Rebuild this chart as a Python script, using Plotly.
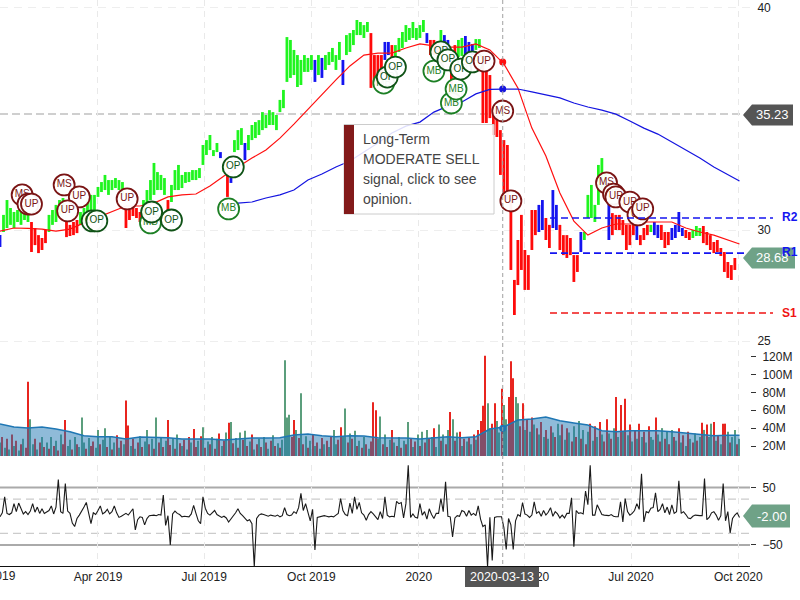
import pandas as pd
import plotly.graph_objects as go

START = "2019-01-07"

highs = [
29.77,30.68,31.35,30.99,30.81,30.90,31.04,31.13,31.13,30.36,
30.09,29.77,29.64,30.00,30.68,30.90,31.13,31.35,31.44,30.36,
30.23,30.36,30.45,30.81,30.99,31.35,31.58,31.58,31.94,32.16,
32.48,32.25,32.25,32.34,32.25,32.16,30.99,30.90,31.08,30.99,
30.81,31.35,31.80,32.25,33.02,32.61,32.48,32.34,31.35,32.03,
32.70,32.93,32.48,32.61,32.61,32.70,32.70,32.79,33.83,34.05,
34.28,33.60,33.92,33.51,32.93,32.48,32.34,34.05,34.50,34.59,
33.92,34.28,34.73,34.86,34.95,35.31,35.18,35.40,35.31,35.18,
35.86,36.31,38.69,38.56,38.11,37.88,37.66,37.88,37.75,37.88,
37.66,37.88,37.75,37.88,38.02,38.20,37.88,38.47,37.66,38.78,
38.87,39.01,39.46,39.37,39.23,39.37,38.87,37.88,37.88,37.88,
38.47,38.47,38.33,38.33,38.65,38.92,39.23,39.10,39.37,39.10,
39.23,39.46,38.87,38.56,38.56,38.47,39.01,38.78,38.56,38.11,
38.33,38.56,38.65,38.74,38.47,38.38,38.60,38.60,37.52,37.21,
36.98,35.40,35.18,34.50,34.05,33.83,31.35,27.75,29.55,30.68,
29.10,28.87,30.90,30.90,31.13,31.35,30.54,30.23,31.80,31.13,
30.23,29.77,29.77,29.64,28.87,28.87,29.91,29.91,31.58,32.03,
31.13,32.93,33.24,32.61,31.35,30.76,30.68,30.68,30.45,30.23,
30.23,30.36,30.23,29.77,30.09,30.23,30.23,30.36,30.23,30.23,
29.91,29.91,30.09,30.23,30.81,30.09,30.00,29.91,30.00,30.18,
30.09,30.18,29.91,29.77,29.46,29.55,29.19,29.01,28.56,28.42,
28.74]
lows = [
29.23,29.91,30.09,30.23,30.09,30.36,30.23,30.45,30.36,29.01,
29.32,28.96,29.10,29.41,29.91,30.23,30.36,30.68,30.81,29.68,
29.73,29.77,29.86,30.23,30.27,30.54,30.76,30.68,31.49,31.71,
31.80,31.58,31.80,31.89,31.80,31.58,30.09,30.45,30.63,30.54,
30.36,30.68,31.13,31.35,31.58,31.80,31.80,31.58,30.81,31.26,
31.80,31.80,31.89,32.12,32.16,32.25,32.25,32.34,32.93,33.38,
33.60,33.33,33.51,33.24,32.61,31.49,32.12,33.51,33.60,33.83,
33.15,33.60,34.05,34.14,34.28,34.50,34.59,34.73,34.73,34.50,
35.31,35.49,36.67,36.85,36.98,36.44,36.53,37.12,37.12,37.21,
36.67,36.98,36.85,37.21,37.43,37.57,37.21,37.66,36.53,37.88,
38.02,38.33,38.78,38.78,38.65,38.92,36.40,36.53,36.76,36.40,
37.66,37.88,37.75,37.75,38.02,38.20,38.47,38.56,38.65,38.56,
38.65,38.92,38.42,37.88,37.88,37.66,38.20,38.11,37.66,36.53,
37.66,37.79,37.84,37.79,37.88,37.88,38.11,38.20,34.82,34.82,
35.04,34.28,34.19,32.48,31.58,31.35,28.20,26.17,27.52,28.20,
27.30,27.30,29.10,29.77,29.91,30.00,29.55,29.19,30.09,30.00,
29.10,28.87,28.74,28.87,27.66,28.11,29.01,29.55,30.54,30.54,
30.36,31.13,31.80,31.35,29.55,29.77,30.00,30.00,29.77,29.10,
29.32,29.77,29.55,29.32,29.55,29.77,29.91,29.77,29.64,29.55,
29.19,29.32,29.55,29.64,29.91,29.73,29.64,29.55,29.64,29.73,
29.73,29.41,29.32,29.10,28.96,29.01,28.83,28.11,27.84,27.75,
28.20]
bar_kinds = ("bggggggggr" "rrrrgggggr" "rrrggggggg" "ggggggrrrr" "rgggggggrg"
             "gggggggggg" "gggbgrbggg" "bggggggggg" "gggggggggg" "bgbgggggbg"
             "ggggggrrrr" "bbrggggggg" "ggbrrrgbbr" "rggbbbggrr" "rrrrrrrrrr"
             "rrrrbbrrbb" "rrrrrrbggg" "ggggbrrrrr" "rrbrrrgbbr" "rrbbbbrrgg"
             "grrrrrrrrr" "r")

long_ma = [29.95,30.09,30.07,30.04,29.95,30.04,30.32,30.58,30.85,31.08,31.08,31.21,31.49,31.58,
           31.62,31.98,32.43,32.84,33.24,33.60,34.14,34.77,35.45,36.08,36.76,37.39,37.88,37.97,
           37.97,38.20,38.38,38.29,38.24,38.24,38.38,38.11,37.48,36.40,34.59,33.33,31.67,30.40,
           29.77,30.09,30.27,30.27,30.36,30.36,30.36,30.09,29.91,29.77,29.55,29.37]
slow_ma = [31.21,31.26,31.44,31.58,31.80,32.25,32.52,32.84,33.11,33.51,33.92,34.37,34.68,34.86,
           35.31,35.58,35.77,36.13,36.33,36.35,36.35,36.22,36.08,35.95,35.72,35.54,35.40,35.22,
           34.91,34.59,34.32,33.96,33.60,33.24,32.84,32.48,32.21]
vol_ma = [44.6,41.3,40.2,41.3,39,36,31.5,30.4,30.4,27.8,30,30,29.3,27.8,27.8,27.8,26.7,28.2,29,29,
          29.3,32.3,33.4,31.5,30.4,31.5,31.2,29.3,29,29,27.8,29,30.4,29.3,30.4,39,41.3,49.1,50.2,
          52.5,48.3,45.8,43.5,37.1,36,37.1,37.1,37.1,36,34.6,33.4,31.5,32,32]

volume = [
24,30,18,28,16,33,20,26,15,22,28,18,92,50,22,28,16,24,30,19,
24,17,30,20,26,15,33,22,49,20,27,16,30,22,19,52,24,17,29,20,
25,18,38,22,27,40,19,30,16,24,32,18,26,22,71,43,20,28,17,24,
31,19,25,38,22,28,17,52,24,30,19,26,49,21,29,17,33,23,20,27,
16,30,24,39,19,26,31,41,18,25,22,30,17,28,34,20,26,35,46,47,
23,29,18,35,27,37,20,25,33,16,22,28,19,30,24,17,26,32,20,23,
18,27,116,52,55,30,49,38,29,79,22,31,18,26,33,20,24,17,29,22,
26,19,31,38,22,27,41,30,62,24,34,28,37,20,26,18,30,22,17,25,
69,60,28,53,22,33,19,27,38,24,20,30,18,26,22,47,28,19,25,33,
20,36,24,38,28,30,40,19,44,26,33,22,38,58,50,26,35,36,20,28,
25,30,22,33,27,38,48,65,121,68,40,45,68,48,35,84,66,50,75,115,
96,75,68,42,68,38,50,36,52,44,40,33,47,30,38,28,42,35,30,45,
32,44,27,40,35,25,42,30,48,28,38,22,36,45,26,42,30,47,33,25,
50,34,28,40,75,30,66,36,73,32,44,25,38,28,45,30,36,24,42,30,
27,52,33,25,40,28,36,22,38,30,26,40,24,32,20,36,28,24,34,26,
30,46,38,44,30,45,47,26,32,22,45,45,36,24,30,38,22,28]
vol_kinds = ("grgrgrgrgrgrrggrgrgr" "grgrgrgrrggrgrgggrgr" "rggrggrgrgrgrgrrgrgr"
             "grggrgrgrgrgrrgrgrgr" "grgrrgrgrgrgrgrgrgrg" "rgrgrgrgrgrgrgrgrgrg"
             "rggggrrgrgrgrgrgrgrg" "rgrggrrggrgrgrgrgrgr" "rrggrgrgrgrgrgrgrgrg"
             "rgrgrgrggrgrgrgrgrgr" "grgrgrrrrggrrggrggrr" "rggrrgrgrgrgrgrgrgrg"
             "grgrgrgrgrgrgrgrgrgr" "rgrgrgrgrgrgrgrgrgrg" "grgrgrgrgrgrgrgrgrgr"
             "grgrggrgrgrrgrggrg")

cci = [
-1,6,34,5,3,6,22,8,23,12,4,8,3,9,22,7,16,5,13,5,
7,10,18,4,16,64,8,5,57,9,5,-12,-18,-4,2,8,16,24,5,-13,
6,3,10,18,4,7,12,4,8,18,6,-2,0,3,5,2,8,13,-24,-6,
-1,-2,-15,-4,1,2,2,1,3,2,37,-16,1,-50,4,9,5,3,-1,0,
0,-1,4,19,5,-8,-13,34,14,5,2,6,10,3,1,-2,0,-3,-10,-5,
2,6,13,5,1,-3,-8,-6,-13,-88,-4,2,4,3,1,0,2,1,0,2,
-1,1,15,3,1,2,8,5,15,40,10,22,5,-8,12,-59,-2,-1,0,1,
0,-1,0,-1,2,5,31,10,3,1,23,5,34,12,24,6,2,-7,3,8,
4,-2,-6,8,-4,34,2,-1,0,-1,26,22,24,-3,22,89,-2,4,-2,-3,
22,2,8,-5,13,3,-4,5,5,31,8,60,0,-1,-36,-3,1,0,10,8,
0,10,2,5,1,18,-5,-18,-15,-88,-2,-77,-2,-1,-1,-1,-20,-58,-4,-15,
-58,-8,3,0,24,4,2,-2,2,25,5,8,0,10,2,7,15,0,8,4,
-3,2,-3,5,5,32,-53,10,5,6,4,44,20,89,2,2,20,10,3,2,
2,1,3,0,-1,-1,25,-10,31,8,2,5,10,22,12,74,-10,8,6,14,
15,41,8,12,22,6,16,3,20,5,8,62,5,8,3,-3,-4,0,2,1,
1,1,66,-6,-2,6,8,2,-7,1,57,-8,8,-29,-4,2,6,-2]

signal_labels = ["MS","UP","UP","MS","UP","UP","OP","OP","UP","MB","OP","OP","MB","OP","MB","OP","OP",
                 "MB","MB","MB","OP","OP","OP","OP","UP","MS","UP","MS","UP","UP","UP","UP","UP"]
signal_dates = ["2019-01-26","2019-01-31","2019-02-03","2019-03-03","2019-03-16","2019-03-06","2019-03-27",
                "2019-03-31","2019-04-26","2019-05-16","2019-05-17","2019-06-03","2019-07-22","2019-07-26",
                "2019-12-02","2019-12-05","2019-12-12","2020-01-14","2020-01-29","2020-02-02","2020-01-20",
                "2020-01-26","2020-02-06","2020-02-16","2020-02-26","2020-03-13","2020-03-20","2020-06-10",
                "2020-06-16","2020-06-18","2020-06-30","2020-07-07","2020-07-11"]
signal_prices = [31.58,31.17,31.17,32.03,31.49,30.86,30.41,30.41,31.40,30.32,30.81,30.45,30.95,32.84,
                 36.62,36.89,37.34,37.16,35.72,36.35,38.02,37.66,37.25,37.57,37.61,35.36,31.31,32.12,
                 31.62,31.49,31.26,30.68,30.95]

r2, r1, s1 = 30.54, 28.96, 26.26
last_price, last_close, last_cci = 35.23, 28.68, -2.00
cursor_date = "2020-03-13"
cursor_values = [37.57, 36.35, 40]

price_ticks = [25, 30, 40]
vol_ticks = [20, 40, 60, 80, 100, 120]
vol_labels = ["20M", "40M", "60M", "80M", "100M", "120M"]
cci_ticks = [-50, 50]
x_ticks = ["2019-04-01", "2019-07-01", "2019-10-01", "2020-01-01", "2020-04-01", "2020-07-01", "2020-10-01"]
x_labels = ["Apr 2019", "Jul 2019", "Oct 2019", "2020", "Apr 2020", "Jul 2020", "Oct 2020"]

BAR = {"g": "#1ff51f", "r": "#ff0a0a", "b": "#1414f0"}
VOL = {"g": "#5b9e7c", "r": "#e8251f"}
SIG = {"UP": "#7a1414", "MS": "#7a1414", "OP": "#0f5216", "MB": "#1c7f24"}
DAY = 86400000
X_RANGE = ["2019-01-07", "2020-10-11"]

def px(x): return x / 800
def py(y): return 1 - y / 600

bar_dates = pd.date_range(START, periods=len(highs), freq="3D")
two_day = pd.date_range(START, periods=len(volume), freq="2D")
cci_dates = pd.date_range(START, periods=len(cci), freq="2D")
ma_dates = list(pd.date_range(START, periods=len(long_ma) - 1, freq="12D")) + [pd.Timestamp("2020-10-02")]

fig = go.Figure()
fig.add_trace(go.Bar(x=bar_dates, base=lows, y=[h - l for h, l in zip(highs, lows)],
                     marker=dict(color=[BAR[k] for k in bar_kinds], line_width=0),
                     width=2.4 * DAY, xaxis="x", yaxis="y", hoverinfo="skip"))
fig.add_trace(go.Scatter(x=ma_dates, y=long_ma, mode="lines", line=dict(color="#ff1010", width=1.2),
                         xaxis="x", yaxis="y", hoverinfo="skip"))
fig.add_trace(go.Scatter(x=ma_dates[17:], y=slow_ma, mode="lines", line=dict(color="#1414e0", width=1.2),
                         xaxis="x", yaxis="y", hoverinfo="skip"))
fig.add_trace(go.Scatter(x=[cursor_date], y=[cursor_values[0]], mode="markers",
                         marker=dict(color="#ff1010", size=7), xaxis="x", yaxis="y", hoverinfo="skip"))
fig.add_trace(go.Scatter(x=[cursor_date], y=[cursor_values[1]], mode="markers",
                         marker=dict(color="#1414e0", size=7), xaxis="x", yaxis="y", hoverinfo="skip"))
for lab, d, p in zip(signal_labels, signal_dates, signal_prices):
    fig.add_trace(go.Scatter(x=[d], y=[p], mode="markers+text", text=[lab], textposition="middle center",
                             textfont=dict(size=10, color=SIG[lab], family="Liberation Sans"),
                             marker=dict(size=21, color="rgba(255,255,255,0.95)", line=dict(color=SIG[lab], width=1.8)),
                             xaxis="x", yaxis="y", hoverinfo="skip"))

fig.add_trace(go.Bar(x=two_day, y=volume, marker=dict(color=[VOL[k] for k in vol_kinds], line_width=0),
                     width=0.9 * DAY, xaxis="x2", yaxis="y2", hoverinfo="skip"))
fig.add_trace(go.Scatter(x=ma_dates, y=vol_ma, mode="lines", fill="tozeroy", fillcolor="rgba(31,119,180,0.5)",
                         line=dict(color="#1f77b4", width=1.6), xaxis="x2", yaxis="y2", hoverinfo="skip"))
fig.add_trace(go.Scatter(x=[cursor_date], y=[cursor_values[2]], mode="markers",
                         marker=dict(color="#1f77b4", size=7), xaxis="x2", yaxis="y2", hoverinfo="skip"))
fig.add_trace(go.Scatter(x=cci_dates, y=cci, mode="lines", line=dict(color="#1a1a1a", width=1.1),
                         xaxis="x3", yaxis="y3", hoverinfo="skip"))

D = 750 / 800
xbase = dict(type="date", range=X_RANGE, domain=[0, D], tickmode="array", tickvals=x_ticks, automargin=False,
             showgrid=True, gridcolor="#e9e9e9", griddash="6px,5px", gridwidth=1, zeroline=False, ticks="")
ybase = dict(side="right", zeroline=False, ticklabelposition="outside", automargin=False,
             tickfont=dict(family="Liberation Sans", size=12, color="#222"))

shapes = []
def line(x0, x1, y0, y1, color, width, dash="solid", xref="paper", yref="paper", layer="above"):
    shapes.append(dict(type="line", x0=x0, x1=x1, y0=y0, y1=y1, xref=xref, yref=yref, layer=layer,
                       line=dict(color=color, width=width, dash=dash)))

line(0, D, last_price, last_price, "#cfcfcf", 2, "8px,4px", yref="y", layer="below")
for lvl in (50, -50):
    line(0, D, lvl, lvl, "#aaaaaa", 2, yref="y3", layer="below")
for lvl in (30, -30):
    line(0, D, lvl, lvl, "#cccccc", 1.2, "8px,5px", yref="y3", layer="below")
line(px(550), px(773), r2, r2, "#1414f0", 1.6, "7px,4px", yref="y")
line(px(550), px(773), r1, r1, "#1414f0", 1.6, "7px,4px", yref="y")
line(px(550), px(773), s1, s1, "#f01414", 1.6, "7px,4px", yref="y")
line(cursor_date, cursor_date, py(0), py(566), "#a0a0a0", 1, "4px,3px", xref="x")

def rect(x0, x1, y0, y1, fill, border=None):
    shapes.append(dict(type="rect", x0=px(x0), x1=px(x1), y0=py(y0), y1=py(y1), xref="paper", yref="paper",
                       fillcolor=fill, line=dict(color=border or fill, width=1 if border else 0)))

def tag(yc, half, x_right, fill):
    pts = [(743, yc), (752, yc - half), (x_right, yc - half), (x_right, yc + half), (752, yc + half)]
    path = "M " + " L ".join(f"{px(a):.5f},{py(b):.5f}" for a, b in pts) + " Z"
    shapes.append(dict(type="path", path=path, xref="paper", yref="paper", fillcolor=fill, line_width=0))

rect(344, 494, 124.5, 214, "rgba(255,255,255,0.86)", "#cccccc")
rect(344, 354, 125, 214, "#821a1a")
tag(115, 10.5, 793, "#555555")
tag(258, 10.5, 795, "#6fa287")
tag(516, 11.5, 790, "#6fa287")
rect(465, 539, 567, 587, "#555555")

annots = []
def text(x, y, s, size=12, color="#444", anchor="left", bold=False):
    annots.append(dict(x=px(x), y=py(y), xref="paper", yref="paper", text=f"<b>{s}</b>" if bold else s,
                       showarrow=False, xanchor=anchor, yanchor="middle", align=anchor,
                       font=dict(family="Liberation Sans", size=size, color=color), borderpad=0))

for i, s in enumerate(["Long-Term", "MODERATE SELL", "signal, click to see", "opinion."]):
    text(362, 138.5 + i * 20, s, size=14)
text(772, 115, f"{last_price:.2f}", 13, "white", "center")
text(772, 258, f"{last_close:.2f}", 13, "white", "center")
text(772, 516, f"{last_cci:.2f}", 13, "white", "center")
text(502, 576.5, cursor_date, 12.5, "white", "center")
text(-9.5, 576, "Jan 2019", 12, "#222", "center")
text(781, 217, "R2", 12, "#1414f0", bold=True)
text(781, 252, "R1", 12, "#1414f0", bold=True)
text(781, 313, "S1", 12, "#f01414", bold=True)

fig.update_layout(
    width=800, height=600, autosize=False, showlegend=False, barmode="overlay",
    margin=dict(l=0, r=0, t=0, b=0), paper_bgcolor="white", plot_bgcolor="white",
    font=dict(family="Liberation Sans"), shapes=shapes, annotations=annots,
    xaxis=dict(**xbase, anchor="y", showticklabels=False),
    xaxis2=dict(**xbase, anchor="y2", showticklabels=False),
    xaxis3=dict(**xbase, anchor="y3", ticktext=x_labels, showline=True, linecolor="#111", linewidth=1,
                tickfont=dict(family="Liberation Sans", size=12, color="#222")),
    yaxis=dict(**ybase, anchor="x", domain=[py(345), 1], range=[24.82, 40.36], tickmode="array",
               tickvals=price_ticks, showgrid=True, gridcolor="#eeeeee", griddash="8px,6px",
               ticks="outside", ticklen=4, tickcolor="white"),
    yaxis2=dict(**ybase, anchor="x2", domain=[py(456), py(350)], range=[8.8, 127.5], tickmode="array",
                tickvals=vol_ticks, ticktext=vol_labels, showgrid=False, ticks="outside", ticklen=5,
                tickcolor="#333", ticklabelstandoff=4),
    yaxis3=dict(**ybase, anchor="x3", domain=[py(566), py(465)], range=[-86.8, 89.4], tickmode="array",
                tickvals=cci_ticks, showgrid=False, ticks="outside", ticklen=5, tickcolor="#333",
                ticklabelstandoff=4),
)
fig.write_html("out.html", config={"displayModeBar": False},
               post_script="document.body.style.margin='0';document.body.style.overflow='hidden';")
